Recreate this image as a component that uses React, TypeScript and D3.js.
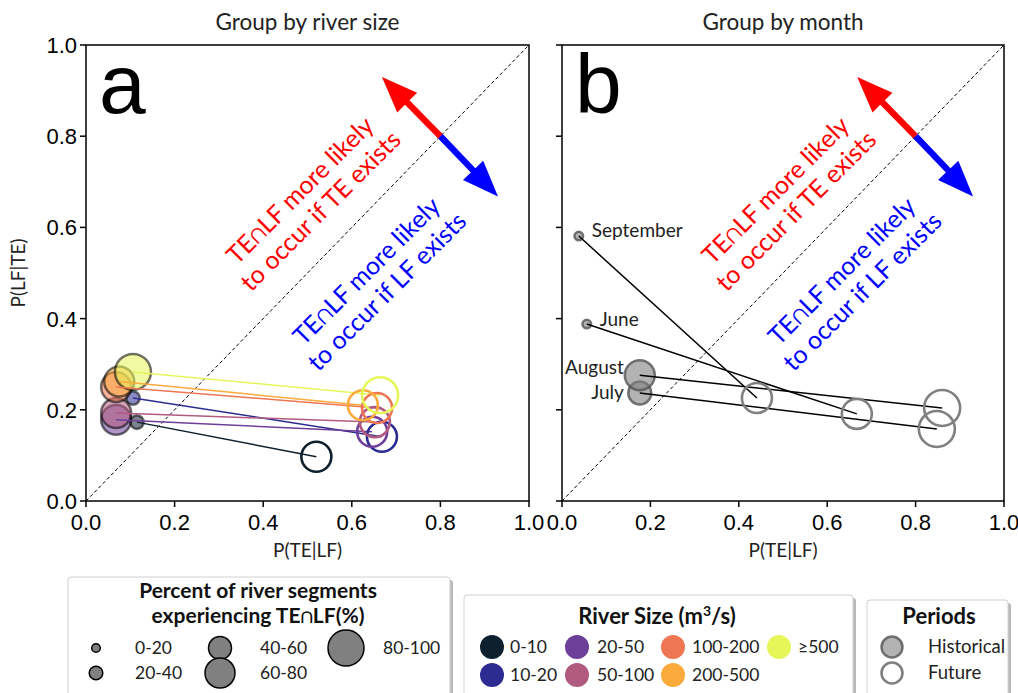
import React from "react";
import * as d3 from "d3";

// ---------- data ----------
const riverSizes = ["0-10", "10-20", "20-50", "50-100", "100-200", "200-500", "≥500"];
const riverColors = ["#0e1f2e", "#2c2b92", "#6e3f98", "#b15a80", "#ee7652", "#fbaa3c", "#e6f658"];
// historical (TE|LF, LF|TE) and size class per river size
const histX_a = [0.115, 0.106, 0.068, 0.068, 0.068, 0.075, 0.106];
const histY_a = [0.173, 0.226, 0.178, 0.193, 0.25, 0.262, 0.283];
const histSize_a = [1, 1, 3, 3, 3, 3, 4];
const futX_a = [0.52, 0.668, 0.646, 0.652, 0.657, 0.625, 0.664];
const futY_a = [0.097, 0.141, 0.152, 0.173, 0.204, 0.21, 0.232];
const futSize_a = [3, 3, 3, 3, 3, 3, 4];

const months = ["June", "July", "August", "September"];
const histX_b = [0.056, 0.176, 0.176, 0.038];
const histY_b = [0.388, 0.237, 0.276, 0.581];
const histSize_b = [0, 2, 3, 0];
const futX_b = [0.667, 0.848, 0.86, 0.441];
const futY_b = [0.191, 0.158, 0.204, 0.226];
const futSize_b = [3, 4, 4, 3];

const sizeLabels = ["0-20", "20-40", "40-60", "60-80", "80-100"];
const sizeRadii = [4.3, 6.8, 11.5, 15, 18];
const tickValues = [0, 0.2, 0.4, 0.6, 0.8, 1.0];

const W = 1018;
const H = 693;
const y = d3.scaleLinear().domain([0, 1]).range([501, 45]);
const xA = d3.scaleLinear().domain([0, 1]).range([86, 529]);
const xB = d3.scaleLinear().domain([0, 1]).range([562, 1004]);

const SANS = "Lato, 'Open Sans', sans-serif";
const TICKFONT = "'Liberation Sans', Arial, sans-serif";

function Axes({ x, showYLabels, title, letter }: any) {
  const [x0, x1] = x.range();
  const [y0, y1] = y.range();
  return (
    <g>
      {/* diagonal */}
      <line x1={x(0)} y1={y(0)} x2={x(1)} y2={y(1)} stroke="#000" strokeWidth={1} strokeDasharray="3.5,2.5" />
      <rect x={x0} y={y1} width={x1 - x0} height={y0 - y1} fill="none" stroke="#000" strokeWidth={1.5} />
      {tickValues.map((t) => (
        <g key={"x" + t}>
          <line x1={x(t)} x2={x(t)} y1={y0} y2={y0 + 6} stroke="#000" strokeWidth={1.5} />
          <text x={x(t)} y={y0 + 29} textAnchor="middle" fontFamily={TICKFONT} fontSize={22} fill="#000">
            {t.toFixed(1)}
          </text>
        </g>
      ))}
      {tickValues.map((t) => (
        <g key={"y" + t}>
          <line x1={x0 - 6} x2={x0} y1={y(t)} y2={y(t)} stroke="#000" strokeWidth={1.5} />
          {showYLabels && (
            <text x={x0 - 9} y={y(t) + 8} textAnchor="end" fontFamily={TICKFONT} fontSize={22} fill="#000">
              {t.toFixed(1)}
            </text>
          )}
        </g>
      ))}
      <text x={(x0 + x1) / 2} y={30} textAnchor="middle" fontFamily={SANS} fontSize={22.5} fill="#222">
        {title}
      </text>
      <text x={(x0 + x1) / 2} y={557} textAnchor="middle" fontFamily={SANS} fontSize={19} fill="#222">
        P(TE|LF)
      </text>
      <text x={x0 + 13} y={113} fontFamily={TICKFONT} fontSize={84} fill="#000">
        {letter}
      </text>
      {/* arrows */}
      <Arrow x={x} tx={0.668} ty={0.93} color="#ff0000" />
      <Arrow x={x} tx={0.93} ty={0.668} color="#0000ff" />
      <text
        transform={`translate(${x(0.505)},${y(0.66)}) rotate(-45)`}
        textAnchor="middle"
        fontFamily={SANS}
        fontSize={25}
        fill="#ff0000"
      >
        <tspan x={0} dy={-5}>TE∩LF more likely</tspan>
        <tspan x={0} dy={29}>to occur if TE exists</tspan>
      </text>
      <text
        transform={`translate(${x(0.655)},${y(0.483)}) rotate(-45)`}
        textAnchor="middle"
        fontFamily={SANS}
        fontSize={25}
        fill="#0000ff"
      >
        <tspan x={0} dy={-5}>TE∩LF more likely</tspan>
        <tspan x={0} dy={29}>to occur if LF exists</tspan>
      </text>
    </g>
  );
}

function Arrow({ x, tx, ty, color }: any) {
  const sx = x(0.8), sy = y(0.8);
  const ex = x(tx), ey = y(ty);
  const dx = ex - sx, dy = ey - sy;
  const L = Math.hypot(dx, dy);
  const ux = dx / L, uy = dy / L;
  const nx = -uy, ny = ux;
  const headL = 36, headW = 14, shaftW = 3.2;
  const bx = ex - ux * headL, by = ey - uy * headL;
  const pts = [
    [sx + nx * shaftW, sy + ny * shaftW],
    [bx + nx * shaftW, by + ny * shaftW],
    [bx + nx * headW, by + ny * headW],
    [ex, ey],
    [bx - nx * headW, by - ny * headW],
    [bx - nx * shaftW, by - ny * shaftW],
    [sx - nx * shaftW, sy - ny * shaftW],
  ];
  return <polygon points={pts.map((p) => p.join(",")).join(" ")} fill={color} />;
}

function PanelA() {
  const x = xA;
  return (
    <g>
      <Axes x={x} showYLabels={true} title="Group by river size" letter="a" />
      <text transform={`translate(25,${(y(0) + y(1)) / 2}) rotate(-90)`} textAnchor="middle" fontFamily={SANS} fontSize={19} fill="#222">
        P(LF|TE)
      </text>
      {riverSizes.map((r, i) => (
        <circle key={"h" + r} cx={x(histX_a[i])} cy={y(histY_a[i])} r={sizeRadii[histSize_a[i]]}
          fill={riverColors[i]} fillOpacity={0.55} stroke="#000" strokeOpacity={0.55} strokeWidth={2.5} />
      ))}
      {riverSizes.map((r, i) => (
        <line key={"l" + r} x1={x(histX_a[i])} y1={y(histY_a[i])} x2={x(futX_a[i])} y2={y(futY_a[i])}
          stroke={riverColors[i]} strokeWidth={1.5} />
      ))}
      {riverSizes.map((r, i) => (
        <circle key={"f" + r} cx={x(futX_a[i])} cy={y(futY_a[i])} r={sizeRadii[futSize_a[i]]}
          fill="none" stroke={riverColors[i]} strokeWidth={2.6} />
      ))}
    </g>
  );
}

function PanelB() {
  const x = xB;
  const labelPos: any = {
    June: { dx: 13, dy: -5, anchor: "start" },
    July: { dx: -16, dy: -1, anchor: "end" },
    August: { dx: -16, dy: -8, anchor: "end" },
    September: { dx: 13, dy: -6, anchor: "start" },
  };
  return (
    <g>
      <Axes x={x} showYLabels={false} title="Group by month" letter="b" />
      {months.map((m, i) => (
        <circle key={"h" + m} cx={x(histX_b[i])} cy={y(histY_b[i])} r={sizeRadii[histSize_b[i]]}
          fill="#808080" fillOpacity={0.6} stroke="#555" strokeOpacity={0.8} strokeWidth={2.5} />
      ))}
      {months.map((m, i) => (
        <line key={"l" + m} x1={x(histX_b[i])} y1={y(histY_b[i])} x2={x(futX_b[i])} y2={y(futY_b[i])}
          stroke="#000" strokeWidth={1.5} />
      ))}
      {months.map((m, i) => (
        <circle key={"f" + m} cx={x(futX_b[i])} cy={y(futY_b[i])} r={sizeRadii[futSize_b[i]]}
          fill="none" stroke="#808080" strokeWidth={2.6} />
      ))}
      {months.map((m, i) => (
        <text key={"t" + m} x={x(histX_b[i]) + labelPos[m].dx} y={y(histY_b[i]) + labelPos[m].dy + 7}
          textAnchor={labelPos[m].anchor} fontFamily={SANS} fontSize={19} fill="#222">
          {m}
        </text>
      ))}
    </g>
  );
}

function LegendBox({ x, y0, w, h }: any) {
  return (
    <g>
      <rect x={x + 3} y={y0 + 3} width={w} height={h} rx={3} fill="#8a8a8a" fillOpacity={0.6} />
      <rect x={x} y={y0} width={w} height={h} rx={3} fill="#fff" stroke="#d0d0d0" strokeWidth={1} />
    </g>
  );
}

function Legends() {
  const sizeCols = [
    { mx: 96, tx: 135, items: [0, 1] },
    { mx: 220, tx: 260, items: [2, 3] },
    { mx: 346, tx: 383, items: [4] },
  ];
  const rows = [648, 673];
  const rsCols = [
    { mx: 492, tx: 510, items: [0, 1] },
    { mx: 577, tx: 597, items: [2, 3] },
    { mx: 673, tx: 692, items: [4, 5] },
    { mx: 779, tx: 798, items: [6] },
  ];
  const rsRows = [647, 675];
  return (
    <g>
      <LegendBox x={68} y0={577} w={382} h={130} />
      <text x={258} y={598} textAnchor="middle" fontFamily={SANS} fontWeight="bold" fontSize={21} fill="#111">
        Percent of river segments
      </text>
      <text x={258} y={623} textAnchor="middle" fontFamily={SANS} fontWeight="bold" fontSize={21} fill="#111">
        experiencing TE∩LF(%)
      </text>
      {sizeCols.map((c, ci) =>
        c.items.map((s, ri) => (
          <g key={"s" + s}>
            <circle cx={c.mx} cy={rows[ri]} r={sizeRadii[s]} fill="#808080" stroke="#000" strokeWidth={1.5} />
            <text x={c.tx} y={rows[ri] + 6} fontFamily={SANS} fontSize={17.5} fill="#222">
              {sizeLabels[s]}
            </text>
          </g>
        ))
      )}

      <LegendBox x={464} y0={595} w={389} h={110} />
      <text x={657} y={624} textAnchor="middle" fontFamily={SANS} fontWeight="bold" fontSize={22} fill="#111">
        River Size (m<tspan dy={-8} fontSize={14}>3</tspan><tspan dy={8}>/s)</tspan>
      </text>
      {rsCols.map((c) =>
        c.items.map((s, ri) => (
          <g key={"r" + s}>
            <circle cx={c.mx} cy={rsRows[ri]} r={12} fill={riverColors[s]} />
            <text x={c.tx} y={rsRows[ri] + 6} fontFamily={SANS} fontSize={17.5} fill="#222">
              {riverSizes[s]}
            </text>
          </g>
        ))
      )}

      <LegendBox x={867} y0={600} w={141} h={105} />
      <text x={939} y={624} textAnchor="middle" fontFamily={SANS} fontWeight="bold" fontSize={22} fill="#111">
        Periods
      </text>
      <circle cx={892} cy={647} r={10.5} fill="#808080" fillOpacity={0.6} stroke="#555" strokeOpacity={0.8} strokeWidth={2.5} />
      <text x={928} y={653} fontFamily={SANS} fontSize={18.5} fill="#222">Historical</text>
      <circle cx={892} cy={673} r={10.5} fill="none" stroke="#808080" strokeWidth={2.6} />
      <text x={928} y={679} fontFamily={SANS} fontSize={18.5} fill="#222">Future</text>
    </g>
  );
}

export default function App() {
  return (
    <div style={{ position: "absolute", left: 0, top: 0 }}>
      <svg width={W} height={H} viewBox={`0 0 ${W} ${H}`} style={{ display: "block", background: "#fff" }}>
        <rect width={W} height={H} fill="#fff" />
        <PanelA />
        <PanelB />
        <Legends />
      </svg>
    </div>
  );
}
